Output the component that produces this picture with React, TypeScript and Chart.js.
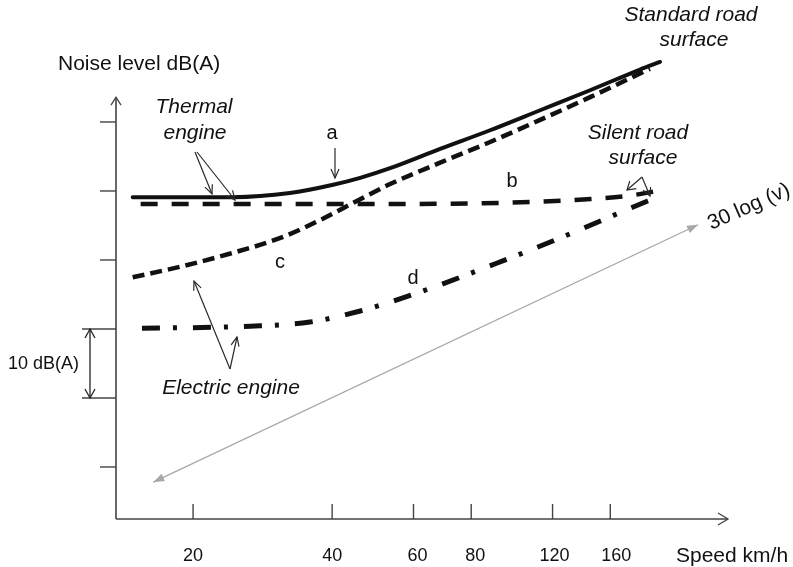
import React, { useEffect, useRef } from "react";
import { Chart, registerables } from "chart.js";

Chart.register(...registerables);

// ---------- data (speed km/h, noise level dB(A)) ----------
const speedTicks = [20, 40, 60, 80, 120, 160];
const levelTicks = [40, 50, 60, 70, 80, 90];

// a: thermal engine, standard road surface
const thermalStdSpeed = [14.8, 24.4, 32.4, 40.2, 46.0, 53.4, 68.5, 87.9, 112.8, 144.7, 185.6, 205];
const thermalStdLevel = [79.1, 79.1, 79.7, 80.9, 81.9, 83.3, 86.1, 88.8, 91.7, 94.6, 97.6, 98.7];

// b: thermal engine, silent road surface
const thermalSilentSpeed = [15.4, 30, 50.8, 80, 107, 142.5, 179.3, 212];
const thermalSilentLevel = [78.1, 78.1, 78.1, 78.2, 78.4, 78.8, 79.4, 80.3];

// c: electric engine, standard road surface
const electricStdSpeed = [14.8, 18.7, 24.0, 30.9, 37.7, 46.0, 53.4, 68.5, 87.9, 112.8, 144.7, 195];
const electricStdLevel = [67.5, 69.0, 70.9, 73.2, 75.8, 78.8, 81.0, 84.1, 87.1, 90.3, 93.6, 97.7];

// d: electric engine, silent road surface
const electricSilentSpeed = [15.5, 26.6, 35.8, 46.0, 53.4, 68.5, 86.6, 109, 137.6, 174, 202];
const electricSilentLevel = [60.1, 60.4, 61.0, 62.6, 63.9, 66.4, 69.0, 71.6, 74.4, 77.3, 79.1];

// 30 log(v) reference slope
const slopeSpeed = [16.4, 247.8];
const slopeLevel = [37.8, 75.1];

const xMin = 13.62;
const xMax = 287.7;
const yMin = 32.46;
const yMax = 103.33;

const FONT = '"Liberation Sans", Arial, Helvetica, sans-serif';
const INK = "#111";
const AXIS = "#444";

const pts = (xs: number[], ys: number[]) => xs.map((x, i) => ({ x, y: ys[i] }));

function openHead(ctx: CanvasRenderingContext2D, x1: number, y1: number, x2: number, y2: number, len: number, hw: number) {
  const a = Math.atan2(y2 - y1, x2 - x1);
  const c = Math.cos(a), s = Math.sin(a);
  ctx.beginPath();
  ctx.moveTo(x2 - len * c + hw * s, y2 - len * s - hw * c);
  ctx.lineTo(x2, y2);
  ctx.lineTo(x2 - len * c - hw * s, y2 - len * s + hw * c);
  ctx.stroke();
}

function filledHead(ctx: CanvasRenderingContext2D, x1: number, y1: number, x2: number, y2: number, len: number, hw: number) {
  const a = Math.atan2(y2 - y1, x2 - x1);
  const c = Math.cos(a), s = Math.sin(a);
  ctx.beginPath();
  ctx.moveTo(x2, y2);
  ctx.lineTo(x2 - len * c + hw * s, y2 - len * s - hw * c);
  ctx.lineTo(x2 - len * c - hw * s, y2 - len * s + hw * c);
  ctx.closePath();
  ctx.fill();
}

function arrow(ctx: CanvasRenderingContext2D, x1: number, y1: number, x2: number, y2: number, len = 9, hw = 4) {
  ctx.beginPath();
  ctx.moveTo(x1, y1);
  ctx.lineTo(x2, y2);
  ctx.stroke();
  openHead(ctx, x1, y1, x2, y2, len, hw);
}

function text(ctx: CanvasRenderingContext2D, s: string, x: number, y: number, font: string, align: CanvasTextAlign = "center") {
  ctx.font = font;
  ctx.textAlign = align;
  ctx.textBaseline = "middle";
  ctx.fillStyle = INK;
  ctx.fillText(s, x, y);
}

const labelShift: Record<number, number> = { 20: 0, 40: 0, 60: 4, 80: 4, 120: 2, 160: 6 };

const overlay = {
  id: "overlay",
  afterDatasetsDraw(chart: any) {
    const ctx: CanvasRenderingContext2D = chart.ctx;
    const xs = chart.scales.x;
    const ys = chart.scales.y;
    const X = (v: number) => xs.getPixelForValue(v);
    const Y = (v: number) => ys.getPixelForValue(v);
    const { left, right, bottom } = chart.chartArea;
    ctx.save();
    ctx.lineCap = "butt";
    ctx.setLineDash([]);

    // axes
    ctx.strokeStyle = AXIS;
    ctx.lineWidth = 1.6;
    ctx.beginPath();
    ctx.moveTo(left, bottom);
    ctx.lineTo(left, Y(93.6));
    ctx.moveTo(left, bottom);
    ctx.lineTo(right, bottom);
    ctx.stroke();
    ctx.lineWidth = 1.3;
    openHead(ctx, left, bottom, left, Y(93.6), 8, 5);
    openHead(ctx, left, bottom, right, bottom, 10, 6);

    // y ticks
    ctx.lineWidth = 1.4;
    levelTicks.forEach((v) => {
      const long = v === 50 || v === 60;
      ctx.beginPath();
      ctx.moveTo(long ? left - 34 : left - 16, Y(v));
      ctx.lineTo(left, Y(v));
      ctx.stroke();
    });
    // x ticks + labels
    speedTicks.forEach((v) => {
      ctx.beginPath();
      ctx.moveTo(X(v), bottom);
      ctx.lineTo(X(v), bottom - 15);
      ctx.stroke();
      text(ctx, String(v), X(v) + (labelShift[v] || 0), bottom + 37, `18px ${FONT}`);
    });

    // 10 dB(A) scale bar
    ctx.strokeStyle = "#222";
    ctx.lineWidth = 1.3;
    const bx = left - 26;
    ctx.beginPath();
    ctx.moveTo(bx, Y(60));
    ctx.lineTo(bx, Y(50));
    ctx.stroke();
    openHead(ctx, bx, Y(50), bx, Y(60), 9, 5);
    openHead(ctx, bx, Y(60), bx, Y(50), 9, 5);
    text(ctx, "10 dB(A)", left - 37, (Y(60) + Y(50)) / 2 + 1, `18px ${FONT}`, "right");

    // axis titles
    text(ctx, "Noise level dB(A)", 58, 64, `21px ${FONT}`, "left");
    text(ctx, "Speed km/h", 676, 556, `21px ${FONT}`, "left");

    // 30 log(v) arrowheads
    const m = chart.getDatasetMeta(4).data;
    if (m.length === 2) {
      ctx.fillStyle = "#a8a8a8";
      filledHead(ctx, m[1].x, m[1].y, m[0].x, m[0].y, 11, 4);
      filledHead(ctx, m[0].x, m[0].y, m[1].x, m[1].y, 11, 4);
    }
    ctx.save();
    ctx.translate(749, 207);
    ctx.rotate(-24 * Math.PI / 180);
    text(ctx, "30 log (v)", 0, 0, `21px ${FONT}`);
    ctx.restore();

    // annotation arrows
    ctx.strokeStyle = "#2a2a2a";
    ctx.lineWidth = 1.2;
    arrow(ctx, 195, 152, 212, 194);
    arrow(ctx, 197, 152, 235, 200);
    arrow(ctx, 335, 148, 335, 178, 9, 4);
    arrow(ctx, 230, 369, 194, 281);
    arrow(ctx, 230, 369, 237, 337);
    // silent road arrows
    arrow(ctx, 642, 177, 627, 190, 8, 5);
    arrow(ctx, 642, 177, 650, 196, 8, 4);

    // labels
    const it = `italic 21px ${FONT}`;
    text(ctx, "Thermal", 194, 107, it);
    text(ctx, "engine", 195, 133, it);
    text(ctx, "Electric engine", 231, 388, it);
    text(ctx, "Standard road", 691, 15, it);
    text(ctx, "surface", 694, 40, it);
    text(ctx, "Silent road", 638, 133, it);
    text(ctx, "surface", 643, 158, it);
    const lf = `20px ${FONT}`;
    text(ctx, "a", 332, 133, lf);
    text(ctx, "b", 512, 181, lf);
    text(ctx, "c", 280, 262, lf);
    text(ctx, "d", 413, 278, lf);

    ctx.restore();
  },
};

export default function App() {
  const ref = useRef<HTMLCanvasElement>(null);
  useEffect(() => {
    const common = {
      pointRadius: 0,
      pointHoverRadius: 0,
      fill: false,
      cubicInterpolationMode: "monotone" as const,
      borderColor: INK,
    };
    const chart = new Chart(ref.current!, {
      type: "line",
      data: {
        datasets: [
          { ...common, label: "a", data: pts(thermalStdSpeed, thermalStdLevel), borderWidth: 4, borderCapStyle: "round" },
          { ...common, label: "b", data: pts(thermalSilentSpeed, thermalSilentLevel), borderWidth: 4.5, borderDash: [17, 14] },
          { ...common, label: "c", data: pts(electricStdSpeed, electricStdLevel), borderWidth: 4.5, borderDash: [12, 6] },
          { ...common, label: "d", data: pts(electricSilentSpeed, electricSilentLevel), borderWidth: 5, borderDash: [18, 13, 4, 16] },
          { ...common, label: "30 log (v)", data: pts(slopeSpeed, slopeLevel), borderWidth: 1.3, borderColor: "#a8a8a8", cubicInterpolationMode: "default", tension: 0 },
        ] as any,
      },
      options: {
        responsive: false,
        animation: false,
        devicePixelRatio: 1,
        layout: { padding: { left: 116, right: 65, top: 30, bottom: 48 } },
        plugins: { legend: { display: false }, tooltip: { enabled: false } },
        events: [],
        scales: {
          x: { type: "logarithmic", min: xMin, max: xMax, bounds: "data", display: false },
          y: { type: "linear", min: yMin, max: yMax, bounds: "data", display: false },
        },
        elements: { line: { clip: false } as any },
      } as any,
      plugins: [overlay],
    });
    return () => chart.destroy();
  }, []);
  return (
    <div style={{ position: "fixed", left: 0, top: 0, width: 793, height: 567, background: "#fff" }}>
      <canvas ref={ref} width={793} height={567} style={{ display: "block" }} />
    </div>
  );
}
